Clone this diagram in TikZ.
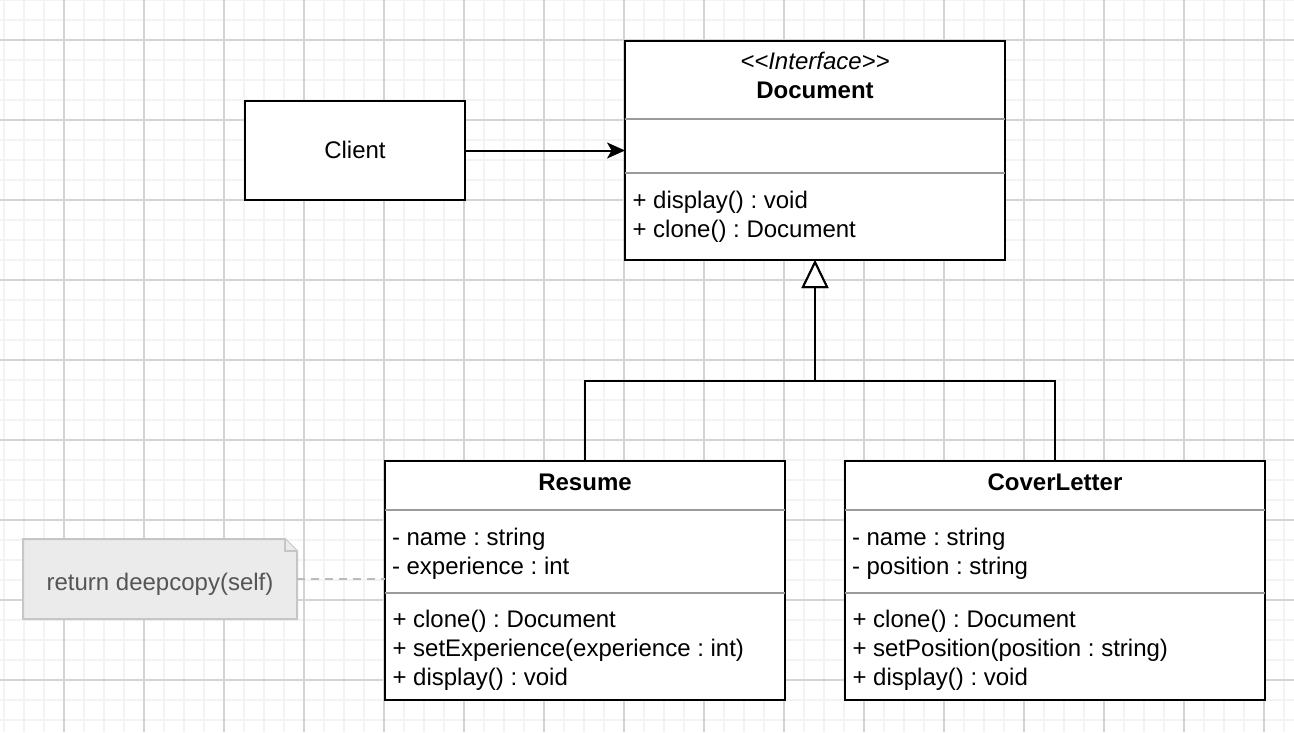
\documentclass[tikz,border=0pt]{standalone}
\usepackage{fontspec}
\setmainfont{Liberation Sans}
\usetikzlibrary{arrows.meta}
\frenchspacing
\definecolor{gridminor}{HTML}{F3F3F3}
\definecolor{gridmajor}{HTML}{D4D4D4}
\definecolor{sepgray}{HTML}{9A9A9A}
\definecolor{notefill}{HTML}{EBEBEB}
\definecolor{noteline}{HTML}{C6C6C6}
\definecolor{notetext}{HTML}{555555}
\definecolor{dashgray}{HTML}{BBBBBB}
\tikzset{
  box/.style={draw=black, line width=1.5pt, fill=white, rectangle, inner sep=0pt, outer sep=0pt},
  sep/.style={draw=sepgray, line width=1.2pt},
  txt/.style={inner sep=0pt, outer sep=0pt, font=\fontsize{18pt}{21.75pt}\selectfont\frenchspacing, text=black},
  ttl/.style={txt, font=\fontsize{18pt}{21.75pt}\selectfont\bfseries},
  assoc/.style={draw=black, line width=1.5pt, -{Stealth[length=13.5pt, width=12pt, inset=3.5pt]}},
  gen/.style={draw=black, line width=1.5pt, -{Triangle[length=21pt, width=20pt, fill=white, line width=1.5pt]}},
  notelink/.style={draw=dashgray, line width=1.5pt, dash pattern=on 6pt off 4.5pt}
}
\begin{document}
\begin{tikzpicture}[x=0.75pt, y=-0.75pt]
\useasboundingbox (0,0) rectangle (1294,732);
\fill[white] (0,0) rectangle (1294,732);
% grid
\foreach \gx in {4,24,...,1294} {\draw[gridminor, line width=1pt] (\gx,0) -- (\gx,732);}
\foreach \gy in {0,20,...,732} {\draw[gridminor, line width=1pt] (0,\gy) -- (1294,\gy);}
\foreach \gx in {64,144,...,1294} {\draw[gridmajor, line width=0.9pt] (\gx,0) -- (\gx,732);}
\foreach \gy in {40,120,...,732} {\draw[gridmajor, line width=0.9pt] (0,\gy) -- (1294,\gy);}

% Client
\node[box, minimum width=165pt, minimum height=74.25pt] (client) at (355,150.5) {};
\node[txt, anchor=base] (clientlbl) at (355,158.3) {Client};

% Document interface
\node[box, minimum width=285pt, minimum height=164.25pt] (doc) at (815,150.5) {};
\draw[sep] (doc.west |- 0,119) -- (doc.east |- 0,119);
\draw[sep] (doc.west |- 0,173) -- (doc.east |- 0,173);
\node[txt, anchor=base] (docst) at (815,69.3) {\itshape <\kern0pt<Interface>\kern0pt>};
\node[ttl, anchor=base] (doctitle) at (815,98.3) {Document};
\node[txt, anchor=base west] (docm1) at (632.5,208) {+ display() : void};
\node[txt, anchor=base west] (docm2) at (632.5,237) {+ clone() : Document};

% Resume
\node[box, minimum width=300pt, minimum height=179.25pt] (resume) at (585,580.5) {};
\draw[sep] (resume.west |- 0,510) -- (resume.east |- 0,510);
\draw[sep] (resume.west |- 0,593) -- (resume.east |- 0,593);
\node[ttl, anchor=base] (restitle) at (585,490) {Resume};
\node[txt, anchor=base west] (resa1) at (392,545) {- name : string};
\node[txt, anchor=base west] (resa2) at (392,574) {- experience : int};
\node[txt, anchor=base west] (resm1) at (392.5,627) {+ clone() : Document};
\node[txt, anchor=base west] (resm2) at (392.5,656) {+ setExperience(experience : int)};
\node[txt, anchor=base west] (resm3) at (392.5,685) {+ display() : void};

% CoverLetter
\node[box, minimum width=315pt, minimum height=179.25pt] (cover) at (1055,580.5) {};
\draw[sep] (cover.west |- 0,510) -- (cover.east |- 0,510);
\draw[sep] (cover.west |- 0,593) -- (cover.east |- 0,593);
\node[ttl, anchor=base] (covtitle) at (1055,490) {CoverLetter};
\node[txt, anchor=base west] (cova1) at (852,545) {- name : string};
\node[txt, anchor=base west] (cova2) at (852,574) {- position : string};
\node[txt, anchor=base west] (covm1) at (852.5,627) {+ clone() : Document};
\node[txt, anchor=base west] (covm2) at (852.5,656) {+ setPosition(position : string)};
\node[txt, anchor=base west] (covm3) at (852.5,685) {+ display() : void};

% Note
\node[rectangle, inner sep=0pt, outer sep=0pt, minimum width=205.5pt, minimum height=60pt] (note) at (160,579) {};
\draw[draw=noteline, fill=notefill, line width=1.5pt, line join=miter]
  (note.north west) -- ([xshift=-9pt]note.north east) -- ([yshift=-9pt]note.north east) -- (note.south east) -- (note.south west) -- cycle;
\draw[draw=noteline, fill=notefill, line width=1.5pt, line join=miter]
  ([xshift=-9pt]note.north east) -- ([xshift=-9pt,yshift=-9pt]note.north east) -- ([yshift=-9pt]note.north east);
\node[txt, anchor=base, text=notetext] (notetxt) at (160,590) {return deepcopy(self)};

% connectors
\draw[assoc] (client.east) -- (doc.west |- client.east);
\coordinate (joint) at (815,381);
\draw[gen] (resume.north) |- (joint) -- (doc.south);
\draw[gen] (cover.north) |- (joint) -- (doc.south);
\draw[notelink] (note.east) -- (resume.west |- note.east);
\end{tikzpicture}
\end{document}
